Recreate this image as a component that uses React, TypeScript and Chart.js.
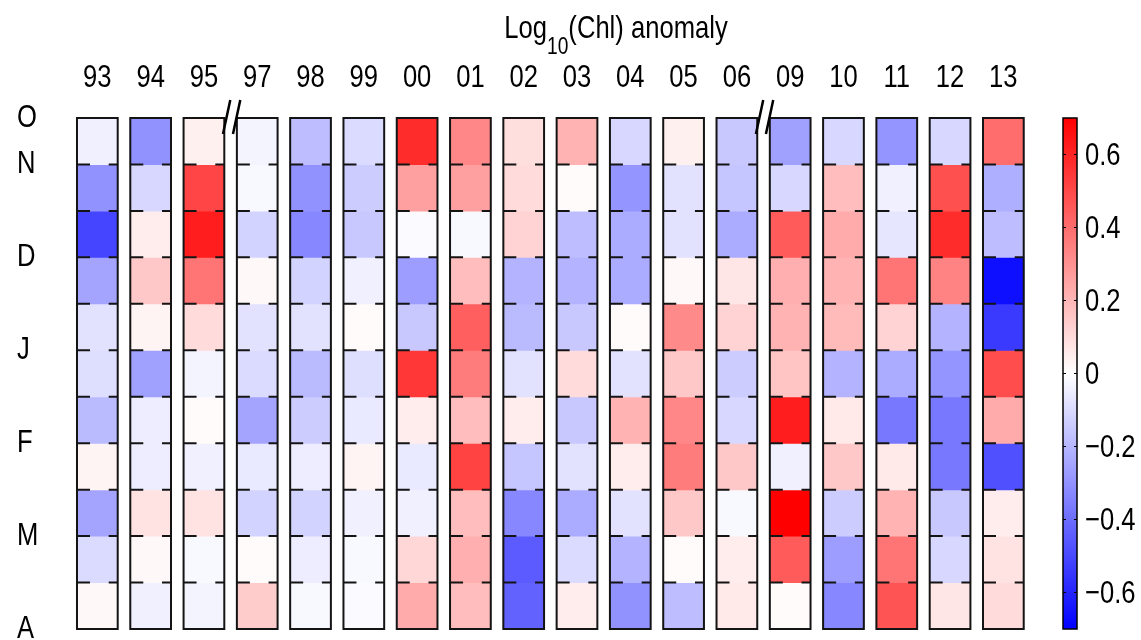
import { useEffect, useRef } from 'react';
import { Chart, registerables } from 'chart.js';

Chart.register(...registerables);

const FONT = '"Liberation Sans", Arial, Helvetica, sans-serif';
const TEXT_SIZE = 32;
const TEXT_SQUEEZE = 0.8; // horizontally condensed text, as in the reference

// Column categories (years)
const years = ['93', '94', '95', '97', '98', '99', '00', '01', '02', '03', '04', '05', '06', '09', '10', '11', '12', '13'];
// Row tick positions (row boundaries) and their labels
const monthTickPositions = [0, 1, 3, 5, 7, 9, 11];
const monthLabels = ['O', 'N', 'D', 'J', 'F', 'M', 'A'];
const rowCount = 11;
// Colour bar
const colorLimit = 0.7;
const colorbarTicks = [-0.6, -0.4, -0.2, 0, 0.2, 0.4, 0.6];
// Axis breaks after these years
const breaksAfter = ['95', '06'];
// Title pieces
const titleMain = 'Log';
const titleSub = '10';
const titleRest = '(Chl) anomaly';

// Log10(Chl) anomaly, one list per year, 11 values from top (Oct) to bottom (Apr)
const anomaly: number[][] = [
  [-0.04, -0.30, -0.51, -0.25, -0.08, -0.09, -0.19, 0.03, -0.25, -0.10, 0.02], // 93
  [-0.30, -0.11, 0.05, 0.15, 0.03, -0.26, -0.05, -0.05, 0.08, 0.02, -0.04], // 94
  [0.04, 0.51, 0.62, 0.38, 0.10, -0.03, 0.01, -0.04, 0.08, -0.02, -0.03], // 95
  [-0.03, -0.02, -0.12, 0.02, -0.08, -0.10, -0.25, -0.06, -0.12, 0.01, 0.14], // 97
  [-0.18, -0.30, -0.33, -0.12, -0.08, -0.19, -0.14, -0.05, -0.12, -0.05, -0.02], // 98
  [-0.10, -0.14, -0.15, -0.04, 0.01, -0.09, -0.06, 0.03, -0.04, -0.02, -0.01], // 99
  [0.58, 0.26, -0.01, -0.27, -0.15, 0.55, 0.05, -0.06, -0.04, 0.11, 0.23], // 00
  [0.33, 0.26, -0.02, 0.18, 0.44, 0.36, 0.18, 0.52, 0.18, 0.22, 0.18], // 01
  [0.09, 0.10, 0.12, -0.21, -0.19, -0.08, 0.05, -0.16, -0.33, -0.45, -0.43], // 02
  [0.21, 0.01, -0.18, -0.21, -0.15, 0.10, -0.15, -0.08, -0.23, -0.10, 0.05], // 03
  [-0.11, -0.29, -0.23, -0.23, 0.01, -0.08, 0.21, 0.05, -0.08, -0.21, -0.30], // 04
  [0.04, -0.08, -0.08, 0.02, 0.32, 0.15, 0.33, 0.36, 0.15, 0.01, -0.18], // 05
  [-0.15, -0.16, -0.23, 0.07, 0.12, -0.14, -0.11, 0.15, -0.02, 0.05, 0.06], // 06
  [-0.26, -0.11, 0.45, 0.22, 0.21, 0.16, 0.62, -0.04, 0.70, 0.45, 0.01], // 09
  [-0.11, 0.18, 0.23, 0.21, 0.19, -0.21, 0.06, 0.15, -0.14, -0.27, -0.33], // 10
  [-0.29, -0.04, -0.07, 0.38, 0.12, -0.23, -0.37, 0.06, 0.21, 0.38, 0.47], // 11
  [-0.11, 0.48, 0.58, 0.34, -0.21, -0.29, -0.37, -0.37, -0.15, -0.11, 0.07], // 12
  [0.40, -0.22, -0.18, -0.66, -0.54, 0.49, 0.23, -0.48, 0.05, 0.08, 0.10], // 13
];

function colorFor(v: number): string {
  const t = Math.max(-1, Math.min(1, v / colorLimit));
  if (t >= 0) {
    const g = Math.round(255 * (1 - t));
    return `rgb(255,${g},${g})`;
  }
  const r = Math.round(255 * (1 + t));
  return `rgb(${r},${r},255)`;
}

function formatCb(n: number): string {
  if (Math.abs(n) < 1e-9) return '0';
  return n < 0 ? '\u2212' + Math.abs(n).toFixed(1) : n.toFixed(1);
}

function squeezedText(
  ctx: CanvasRenderingContext2D,
  text: string,
  x: number,
  y: number,
  align: CanvasTextAlign,
  size = TEXT_SIZE,
  baseline: CanvasTextBaseline = 'middle'
) {
  ctx.save();
  ctx.font = `${size}px ${FONT}`;
  ctx.textAlign = align;
  ctx.textBaseline = baseline;
  ctx.fillStyle = '#000';
  ctx.translate(x, y);
  ctx.scale(TEXT_SQUEEZE, 1);
  ctx.fillText(text, 0, 0);
  ctx.restore();
}

const decorPlugin = {
  id: 'decor',
  afterDatasetsDraw(chart: any) {
    const ctx = chart.ctx as CanvasRenderingContext2D;
    const xs = chart.scales.x;
    const ys = chart.scales.y;
    const cb = chart.scales.cb;
    const area = chart.chartArea;
    const meta = chart.getDatasetMeta(0);
    const top = ys.getPixelForValue(0);
    const bottom = ys.getPixelForValue(rowCount);

    ctx.save();
    // Row boundary ticks inside each column and column frames
    ctx.strokeStyle = '#141414';
    ctx.lineWidth = 2;
    meta.data.forEach((el: any) => {
      const left = el.x - el.width / 2;
      const right = el.x + el.width / 2;
      ctx.beginPath();
      for (let r = 1; r < rowCount; r++) {
        const y = ys.getPixelForValue(r);
        ctx.moveTo(left, y);
        ctx.lineTo(left + 13, y);
        ctx.moveTo(right - 9, y);
        ctx.lineTo(right, y);
      }
      ctx.stroke();
      ctx.strokeRect(left, top, right - left, bottom - top);
    });

    // Axis break marks
    ctx.lineWidth = 2.5;
    ctx.strokeStyle = '#000';
    breaksAfter.forEach((yr) => {
      const i = years.indexOf(yr);
      const mid = (xs.getPixelForValue(i) + xs.getPixelForValue(i + 1)) / 2;
      ctx.beginPath();
      ctx.moveTo(mid - 7.6, area.top + 16);
      ctx.lineTo(mid - 0.3, area.top - 18);
      ctx.moveTo(mid + 2.4, area.top + 16);
      ctx.lineTo(mid + 9.7, area.top - 18);
      ctx.stroke();
    });

    // Year labels (top axis)
    years.forEach((yr, i) => {
      squeezedText(ctx, yr, xs.getPixelForValue(i), area.top - 39.5, 'center');
    });

    // Row labels (left axis)
    monthTickPositions.forEach((v, i) => {
      squeezedText(ctx, monthLabels[i], ys.left, ys.getPixelForValue(v), 'left');
    });

    // Colour bar
    const cbTop = cb.getPixelForValue(colorLimit);
    const cbBottom = cb.getPixelForValue(-colorLimit);
    const cbLeft = cb.left + 33;
    const cbW = 14;
    const grad = ctx.createLinearGradient(0, cbTop, 0, cbBottom);
    grad.addColorStop(0, colorFor(colorLimit));
    grad.addColorStop(0.5, colorFor(0));
    grad.addColorStop(1, colorFor(-colorLimit));
    ctx.fillStyle = grad;
    ctx.fillRect(cbLeft, cbTop, cbW, cbBottom - cbTop);
    ctx.lineWidth = 1.5;
    ctx.strokeStyle = '#000';
    ctx.strokeRect(cbLeft, cbTop, cbW, cbBottom - cbTop);
    ctx.lineWidth = 1;
    ctx.beginPath();
    colorbarTicks.forEach((v) => {
      const y = cb.getPixelForValue(v);
      ctx.moveTo(cbLeft, y);
      ctx.lineTo(cbLeft + 3, y);
      ctx.moveTo(cbLeft + cbW - 3, y);
      ctx.lineTo(cbLeft + cbW, y);
    });
    ctx.stroke();
    colorbarTicks.forEach((v) => {
      squeezedText(ctx, formatCb(v), cb.left + 55, cb.getPixelForValue(v) + 2, 'left');
    });

    // Title with subscript
    ctx.font = `${TEXT_SIZE}px ${FONT}`;
    const w1 = ctx.measureText(titleMain).width * TEXT_SQUEEZE;
    const w3 = ctx.measureText(titleRest).width * TEXT_SQUEEZE;
    ctx.font = `24px ${FONT}`;
    const w2 = ctx.measureText(titleSub).width * TEXT_SQUEEZE;
    const total = w1 + w2 + w3;
    const cx = xs.getPixelForValue(9) + 39;
    let x = cx - total / 2;
    const base = area.top - 80;
    squeezedText(ctx, titleMain, x, base, 'left', TEXT_SIZE, 'alphabetic');
    x += w1;
    squeezedText(ctx, titleSub, x, base + 16, 'left', 24, 'alphabetic');
    x += w2;
    squeezedText(ctx, titleRest, x, base, 'left', TEXT_SIZE, 'alphabetic');
    ctx.restore();
  },
};

const noPad = (s: any) => {
  s.paddingTop = 0;
  s.paddingBottom = 0;
  s.paddingLeft = 0;
  s.paddingRight = 0;
};

export default function App() {
  const canvasRef = useRef<HTMLCanvasElement | null>(null);

  useEffect(() => {
    const canvas = canvasRef.current;
    if (!canvas) return;
    const datasets = Array.from({ length: rowCount }, (_, r) => ({
      label: `row ${r}`,
      data: years.map(() => [r, r + 1]),
      backgroundColor: years.map((_, i) => colorFor(anomaly[i][r])),
      borderWidth: 0,
      grouped: false,
      categoryPercentage: 1,
      barPercentage: 0.764,
      inflateAmount: 0.5,
    }));

    const chart = new Chart(canvas, {
      type: 'bar',
      data: { labels: years, datasets: datasets as any },
      options: {
        responsive: false,
        animation: false,
        events: [],
        layout: { padding: { top: 58, left: 17, right: 0, bottom: 11 } },
        plugins: {
          legend: { display: false },
          title: { display: false },
          tooltip: { enabled: false },
        },
        scales: {
          x: {
            type: 'category',
            position: 'top',
            offset: true,
            grid: { display: false, drawTicks: false, tickLength: 0 },
            border: { display: false },
            ticks: { display: false, autoSkip: false },
            afterFit: (s: any) => {
              s.height = 60;
              noPad(s);
            },
          },
          y: {
            type: 'linear',
            position: 'left',
            reverse: true,
            min: 0,
            max: rowCount,
            grid: { display: false, drawTicks: false, tickLength: 0 },
            border: { display: false },
            ticks: { display: false },
            afterFit: (s: any) => {
              s.width = 53.7;
              noPad(s);
            },
          },
          cb: {
            type: 'linear',
            position: 'right',
            min: -colorLimit,
            max: colorLimit,
            grid: { display: false, drawTicks: false, tickLength: 0 },
            border: { display: false },
            ticks: { display: false },
            afterFit: (s: any) => {
              s.width = 111;
              noPad(s);
            },
          },
        } as any,
      },
      plugins: [decorPlugin],
    });
    return () => chart.destroy();
  }, []);

  return (
    <div style={{ position: 'fixed', left: 0, top: 0, width: 1141, height: 640, background: '#fff' }}>
      <canvas ref={canvasRef} width={1141} height={640} style={{ display: 'block' }} />
    </div>
  );
}
